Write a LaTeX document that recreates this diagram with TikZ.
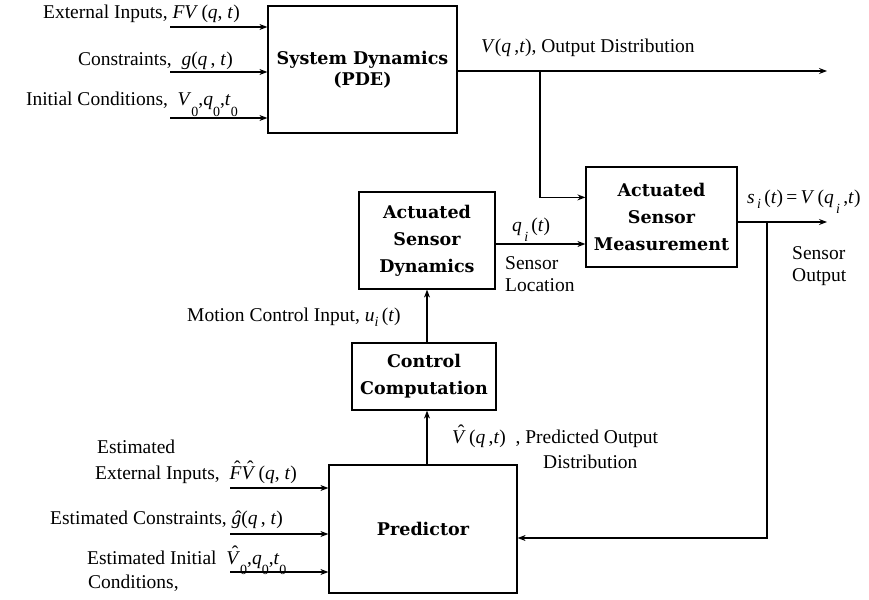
\documentclass[tikz,border=0pt]{standalone}
\usepackage{fontspec}
\setmainfont{Liberation Serif}
\newfontfamily\boxfont{DejaVu Serif}
\usetikzlibrary{arrows.meta,calc}
\newcommand{\iv}[1]{\textit{#1}}
\newcommand{\lo}[1]{\raisebox{-0.6ex}{\fontsize{14}{14}\selectfont #1}}
\newcommand{\llo}[1]{\raisebox{-1.2ex}{\fontsize{14}{14}\selectfont #1}}
% hat over an italic letter: #1 raise, #2 letter
\newcommand{\hatit}[2]{{\ooalign{\iv{#2}\cr\hidewidth\kern0.2em\raisebox{#1}{\symbol{"02C6}}\hidewidth\cr}}}
\newcommand{\hv}{\hatit{0.22em}{V}}
\begin{document}
\begin{tikzpicture}[x=1pt,y=-1pt,
  blk/.style={draw, line width=1.2pt, align=center, inner sep=0pt,
    font=\boxfont\bfseries\fontsize{17.5}{27}\selectfont},
  lbl/.style={inner sep=0pt, font=\fontsize{19.5}{22}\selectfont},
  arr/.style={line width=1.2pt, -{Stealth[length=8pt,width=6pt]}},
  ln/.style={line width=1.2pt}]
\useasboundingbox (0,0) rectangle (869,599);

% blocks
\node[blk, minimum width=189pt, minimum height=127pt,
  font=\boxfont\bfseries\fontsize{17.5}{21}\selectfont] (sd) at (362.5,69.5) {System Dynamics\\(PDE)};
\node[blk, minimum width=151pt, minimum height=100pt] (asm) at (661.5,217) {Actuated\\Sensor\\Measurement};
\node[blk, minimum width=136pt, minimum height=97pt] (asd) at (427,240.5) {Actuated\\Sensor\\Dynamics};
\node[blk, minimum width=144pt, minimum height=67pt] (cc) at (424,376.5) {Control\\Computation};
\node[blk, minimum width=188pt, minimum height=128pt] (pred) at (423,529) {Predictor};

% labels
\node[lbl, anchor=base east] (l1) at (240,19) {External Inputs, \iv{FV}\,(\iv{q}, \iv{t})};
\node[lbl, anchor=base east] (l2) at (233,66) {Constraints,\ \ \iv{g}(\iv{q}\,, \iv{t})};
\node[lbl, anchor=base east] (l3) at (238,106) {Initial Conditions,\ \ \iv{V}\llo{0},\iv{q}\llo{0},\iv{t}\llo{0}};
\node[lbl, anchor=base west] (l4) at (481,53) {\iv{V}(\iv{q}\,,\iv{t}), Output Distribution};
\node[lbl, anchor=base west] (l5) at (747,203) {\iv{s}\lo{\,\iv{i}}\,(\iv{t})\,=\,\iv{V}\,(\iv{q}\llo{\,\iv{i}}\,,\iv{t})};
\node[lbl, anchor=base west, align=left] (l6) at (792,281) {Sensor\\Output};
\node[lbl, anchor=base west] (l7) at (512,231) {\iv{q}\llo{\,\iv{i}}\,(\iv{t})};
\node[lbl, anchor=base west, align=left] (l8) at (505,291) {Sensor\\Location};
\node[lbl, anchor=base west] (l9) at (187,321) {Motion Control Input, \iv{u}\lo{\iv{i}}\,(\iv{t})};
\node[lbl, anchor=base west] (l10) at (452,443) {\hv\,(\iv{q}\,,\iv{t})\ \ , Predicted Output};
\node[lbl, anchor=base west] (l11) at (543,468) {Distribution};
\node[lbl, anchor=base west] (l12) at (97,453) {Estimated};
\node[lbl, anchor=base west] (l13) at (95,479) {External Inputs,\ \ \hatit{0.22em}{F}\hv\,(\iv{q}, \iv{t})};
\node[lbl, anchor=base west] (l14) at (50,524) {Estimated Constraints,\ \hatit{-0.05em}{g}(\iv{q}\,, \iv{t})};
\node[lbl, anchor=base west] (l15) at (87,564) {Estimated Initial\ \ \hv\llo{0},\iv{q}\llo{0},\iv{t}\llo{0}};
\node[lbl, anchor=base west] (l16) at (88,588) {Conditions,};

% system inputs
\coordinate (in1) at (170,27);
\coordinate (in2) at (170,72);
\coordinate (in3) at (170,118);
\draw[arr] (in1) -- (in1 -| sd.west);
\draw[arr] (in2) -- (in2 -| sd.west);
\draw[arr] (in3) -- (in3 -| sd.west);

% output distribution
\coordinate (outend) at (827,71);
\draw[arr] (sd.east |- outend) -- (outend);
\coordinate (br) at (540,71);
\draw[arr] (br) |- ($(asm.north west)+(0,31)$);

% sensor location
\coordinate (q1) at ($(asd.east)+(0,3.5)$);
\draw[arr] (q1) -- (q1 -| asm.west);

% sensor output
\coordinate (so) at (827,222);
\draw[arr] (so -| asm.east) -- (so);
\coordinate (fb) at (767,222);
\coordinate (fb2) at (767,538);
\draw[arr] (fb) -- (fb2) -- (fb2 -| pred.east);

% vertical chain
\draw[arr] (pred.north -| asd) -- (cc.south -| asd);
\draw[arr] (cc.north -| asd) -- (asd.south);

% predictor inputs
\coordinate (p1) at (230,488);
\coordinate (p2) at (230,534);
\coordinate (p3) at (230,572);
\draw[arr] (p1) -- (p1 -| pred.west);
\draw[arr] (p2) -- (p2 -| pred.west);
\draw[arr] (p3) -- (p3 -| pred.west);
\end{tikzpicture}
\end{document}
